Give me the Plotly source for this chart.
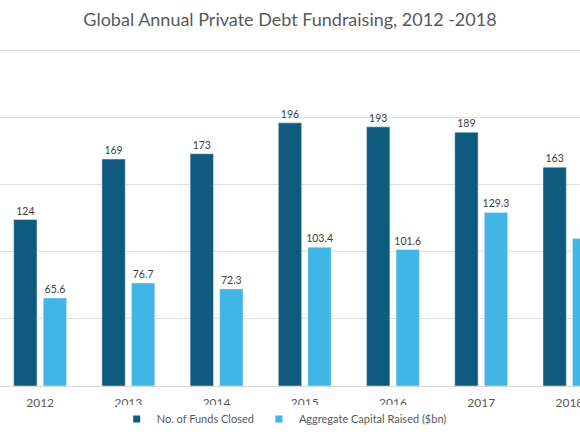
import plotly.graph_objects as go

years = ["2012", "2013", "2014", "2015", "2016", "2017", "2018"]
funds_closed = [124, 169, 173, 196, 193, 189, 163]
capital_raised = [65.6, 76.7, 72.3, 103.4, 101.6, 129.3, 109.9]
funds_labels = [str(v) for v in funds_closed]
capital_labels = [f"{v:.1f}" for v in capital_raised]

dark = "#0f5b80"
light = "#40b6e6"
font = "Lato"

fig = go.Figure()
fig.add_trace(go.Bar(
    x=years, y=funds_closed, name="No. of Funds Closed",
    marker=dict(color=dark), text=funds_labels, textposition="outside",
    textfont=dict(size=10.5, color="#404040", family=font),
    constraintext="none", cliponaxis=False, showlegend=False,
))
fig.add_trace(go.Bar(
    x=years, y=capital_raised, name="Aggregate Capital Raised ($bn)",
    marker=dict(color=light), text=capital_labels, textposition="outside",
    textfont=dict(size=10.5, color="#404040", family=font),
    constraintext="none", cliponaxis=False, showlegend=False,
))
# legend entries with small square swatches
fig.add_trace(go.Scatter(x=[None], y=[None], mode="markers", name="No. of Funds Closed",
                         marker=dict(symbol="square", size=7, color=dark)))
fig.add_trace(go.Scatter(x=[None], y=[None], mode="markers", name="Aggregate Capital Raised ($bn)",
                         marker=dict(symbol="square", size=7, color=light)))

fig.update_layout(
    width=580, height=435,
    margin=dict(l=0, r=0, t=49, b=49, autoexpand=False),
    paper_bgcolor="white", plot_bgcolor="white",
    font=dict(family=font, color="#595959"),
    title=dict(text="Global Annual Private Debt Fundraising, 2012 -2018",
               x=0.5, xanchor="center", y=1 - 20 / 435, yanchor="middle",
               font=dict(size=18, color="#595959", family=font)),
    barmode="group", bargap=0.33, bargroupgap=0.21,
    legend=dict(orientation="h", x=0.49, xanchor="center", y=-0.098, yanchor="middle",
                font=dict(size=11, color="#595959", family=font),
                itemwidth=30),
    xaxis=dict(type="category", range=[-0.455, 6.12], showgrid=False,
               showline=True, linecolor="#d9d9d9", linewidth=1,
               ticks="", ticklabelstandoff=6,
               tickfont=dict(size=12, color="#595959", family=font)),
    yaxis=dict(range=[0, 251], tickvals=[50, 100, 150, 200, 250], showgrid=True,
               gridcolor="#e0e0e0", gridwidth=1, showticklabels=False,
               zeroline=False, ticks=""),
)

fig.write_html("out.html", config={"displayModeBar": False},
               post_script="document.body.style.margin='0';document.documentElement.style.overflow='hidden';")
